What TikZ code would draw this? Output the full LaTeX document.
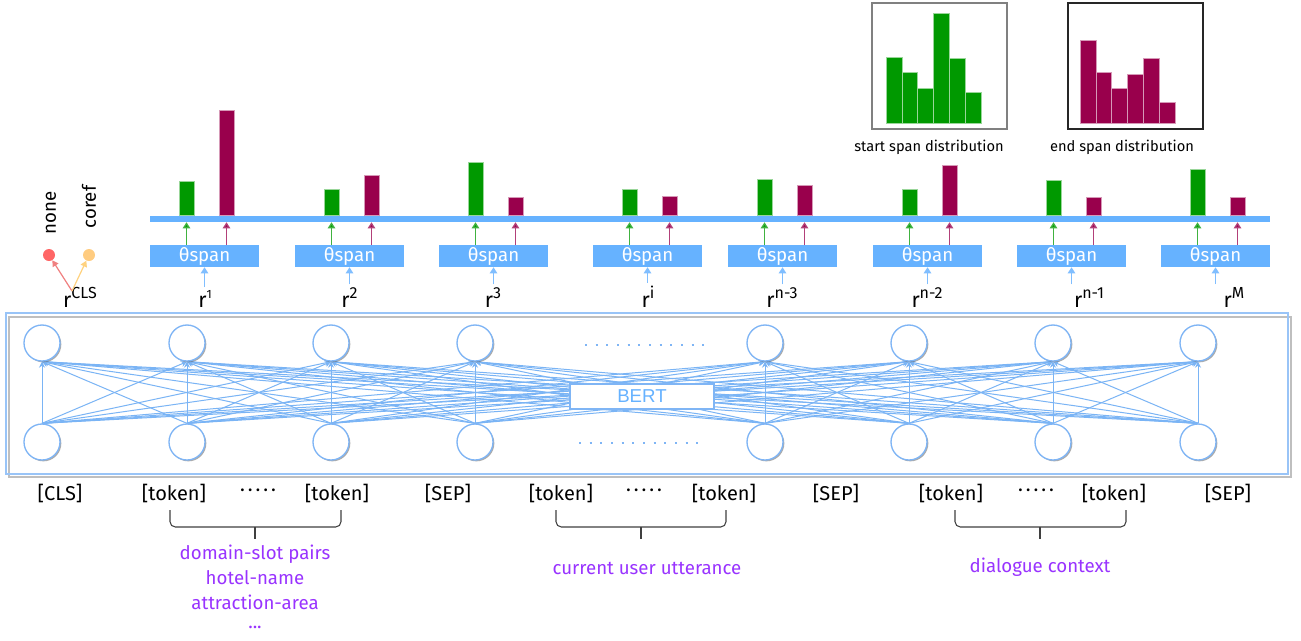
\documentclass[tikz,border=0pt]{standalone}
\usepackage{fontspec}
\setmainfont{Fira Sans}
\newfontfamily\bertfont{Liberation Sans}
\usetikzlibrary{arrows.meta,shadows,backgrounds}
\definecolor{spanblue}{HTML}{66B2FF}
\definecolor{arrblue}{HTML}{80BEFF}
\definecolor{gcol}{HTML}{009900}
\definecolor{mcol}{HTML}{99004C}
\definecolor{netblue}{HTML}{7AB4F5}
\definecolor{circblue}{HTML}{7FB5F5}
\definecolor{purp}{HTML}{9933FF}
\definecolor{reddot}{HTML}{FF6666}
\definecolor{orangedot}{HTML}{FFCC80}
\definecolor{redline}{HTML}{F08080}
\definecolor{orangeline}{HTML}{FFD27F}
\newcommand\rsup[2][12]{r\raisebox{0.42em}{\fontsize{#1}{#1}\selectfont #2}}
\newcommand\fivedots{·\hspace{2.2pt}·\hspace{2.2pt}·\hspace{2.2pt}·\hspace{2.2pt}·}
\tikzset{
  spanbox/.style={fill=spanblue, minimum width=81.75pt, minimum height=16.5pt, inner sep=0pt, text=white, font=\fontsize{14}{14}\selectfont},
  garrow/.style={draw=gcol!75, line width=1pt, -{Triangle[length=4.5pt,width=5.5pt,fill=gcol]}},
  marrow/.style={draw=mcol!75, line width=1pt, -{Triangle[length=4.5pt,width=5.5pt,fill=mcol]}},
  barrow/.style={draw=arrblue, line width=1.2pt, -{Triangle[length=4.5pt,width=5.5pt]}, shorten <=1pt},
  gbar/.style={fill=gcol, draw=gcol!40, line width=0.4pt},
  mbar/.style={fill=mcol, draw=mcol!40, line width=0.4pt},
  rlab/.style={anchor=base, inner sep=1pt, font=\fontsize{16}{16}\selectfont},
  neuron/.style={circle, draw=circblue, fill=white, line width=1pt, minimum size=27pt, inner sep=0pt,
    drop shadow={shadow xshift=1pt, shadow yshift=-1pt, fill=black!60, opacity=0.55}},
  netline/.style={draw=netblue, line width=0.75pt, -{Stealth[length=4.5pt,width=4.5pt]}},
  dotline/.style={draw=circblue, line width=1.6pt, dash pattern=on 1.6pt off 6.4pt},
  tok/.style={inner sep=1pt, font=\fontsize{15}{15}\selectfont},
  brc/.style={draw=black!75, line width=0.8pt, rounded corners=4pt},
  plab/.style={text=purp, inner sep=0pt, font=\fontsize{14}{14}\selectfont},
  histlab/.style={inner sep=1pt, font=\fontsize{11}{11}\selectfont},
}
\begin{document}
\begin{tikzpicture}[x=0.75pt,y=-0.75pt]
\useasboundingbox (0,0) rectangle (1301,640);

% ---------- top histograms ----------
\draw[draw=gray, line width=1.2pt] (872,3) rectangle (1007,129);
\foreach \i/\t in {0/57,1/72,2/88,3/13,4/58,5/92}
  \draw[gbar] (886+\i*15.8,123) rectangle (886+\i*15.8+15.8,\t);
\node[histlab] (lstart) at (929,147) {start span distribution};
\draw[draw=black!85, line width=1.2pt] (1068,3) rectangle (1203,129);
\foreach \i/\t in {0/40,1/72,2/88,3/74,4/58,5/102}
  \draw[mbar] (1080+\i*15.8,123) rectangle (1080+\i*15.8+15.8,\t);
\node[histlab] (lend) at (1122,147) {end span distribution};

% ---------- span bar ----------
\node[fill=spanblue, minimum width=840pt, minimum height=4.5pt, inner sep=0pt] (bar) at (710,219) {};

\foreach \n/\cx/\gt/\mt in {1/204.5/181/110, 2/349.5/189/175, 3/493.5/162/197, 4/647.5/189/196,
    5/782.5/179/185, 6/927.5/189/165, 7/1071.5/180/197, 8/1215.5/169/197}{
  \node[spanbox] (s\n) at (\cx,256) {θspan};
  \draw[gbar] (\cx-25.5,215.5) rectangle (\cx-10.5,\gt);
  \draw[mbar] (\cx+14.5,215.5) rectangle (\cx+29.5,\mt);
  \coordinate (ga\n) at (\cx-18,245);
  \coordinate (ma\n) at (\cx+22,245);
  \draw[garrow] (ga\n) -- (ga\n |- bar.south);
  \draw[marrow] (ma\n) -- (ma\n |- bar.south);
}

% ---------- r labels ----------
\node[rlab] (rc) at (80,307) {\rsup{CLS}};
\node[rlab] (r1) at (205,307) {\rsup[9]{1}};
\node[rlab] (r2) at (349.5,307) {\rsup{2}};
\node[rlab] (r3) at (493,307) {\rsup{3}};
\node[rlab] (r4) at (648,307) {\rsup{i}};
\node[rlab] (r5) at (782,307) {\rsup{n-3}};
\node[rlab] (r6) at (927,307) {\rsup{n-2}};
\node[rlab] (r7) at (1089,307) {\rsup{n-1}};
\node[rlab] (r8) at (1234,307) {\rsup{M}};
\foreach \n in {1,...,8}
  \draw[barrow] (s\n.south |- r\n.north) -- (s\n.south);

% ---------- none / coref ----------
\node[rotate=90, inner sep=1pt, font=\fontsize{14}{14}\selectfont] (none) at (51,213) {none};
\node[rotate=90, inner sep=1pt, font=\fontsize{14}{14}\selectfont] (coref) at (89,207) {coref};
\node[circle, fill=reddot, minimum size=9pt, inner sep=0pt] (rd) at (49,255) {};
\node[circle, fill=orangedot, minimum size=9pt, inner sep=0pt] (od) at (89,255) {};
\coordinate (clso) at (72,291);
\draw[draw=redline, line width=0.9pt, -{Triangle[length=4.5pt,width=5pt]}] (clso) -- (rd);
\draw[draw=orangeline, line width=0.9pt, -{Triangle[length=4.5pt,width=5pt]}] (clso) -- (od);

% ---------- BERT network ----------
\foreach \n/\x in {1/42,2/187,3/331,4/475,5/765,6/909,7/1053,8/1198}{
  \node[neuron] (t\n) at (\x,343) {};
  \node[neuron] (b\n) at (\x,442) {};
}
\begin{pgfonlayer}{background}
  \fill[white] (0,0) rectangle (1301,640);
  \draw[draw=black!25, line width=1pt] (9,317) rectangle (1291,477);
  \draw[draw=circblue!80, line width=1.4pt] (6,313) rectangle (1288,474);
  \foreach \i in {1,...,8}
    \foreach \j in {1,...,8}
      \draw[netline] (b\j.north) -- (t\i.south);
\end{pgfonlayer}
\node[draw=circblue, fill=white, line width=0.8pt, minimum width=108pt, minimum height=18.75pt, inner sep=0pt,
  text=spanblue, font=\fontsize{14}{14}\selectfont\bertfont,
  drop shadow={shadow xshift=0.9pt, shadow yshift=-0.9pt, fill=black!50, opacity=0.5}] (bert) at (642,396.5) {BERT};
\coordinate (dt1) at (585,345); \coordinate (dt2) at (712,345);
\coordinate (db1) at (579,443); \coordinate (db2) at (706,443);
\draw[dotline] (dt1) -- (dt2);
\draw[dotline] (db1) -- (db2);

% ---------- tokens ----------
\node[tok] (k1) at (60,493) {[CLS]};
\node[tok] (k2) at (174,493) {[token]};
\node[tok] (d1) at (258,493) {\fivedots};
\node[tok] (k3) at (337,493) {[token]};
\node[tok] (k4) at (448,493) {[SEP]};
\node[tok] (k5) at (561,493) {[token]};
\node[tok] (d2) at (644,493) {\fivedots};
\node[tok] (k6) at (724,493) {[token]};
\node[tok] (k7) at (836,493) {[SEP]};
\node[tok] (k8) at (951,493) {[token]};
\node[tok] (d3) at (1036,493) {\fivedots};
\node[tok] (k9) at (1114,493) {[token]};
\node[tok] (k10) at (1228,493) {[SEP]};

% ---------- braces ----------
\draw[brc] (170,510) |- (255,527) -| (341,510);
\draw[draw=black!75, line width=0.8pt] (255,527) -- (255,539);
\draw[brc] (556,510) |- (641,527) -| (726,510);
\draw[draw=black!75, line width=0.8pt] (641,527) -- (641,539);
\draw[brc] (955,510) |- (1040,527) -| (1126,510);
\draw[draw=black!75, line width=0.8pt] (1040,527) -- (1040,539);

% ---------- purple labels ----------
\node[plab] (p1) at (255,554) {domain-slot pairs};
\node[plab] (p2) at (255,578) {hotel-name};
\node[plab] (p3) at (255,602) {attraction-area};
\node[plab] (p4) at (255,627) {...};
\node[plab] (p5) at (647,568) {current user utterance};
\node[plab] (p6) at (1040,567) {dialogue context};
\end{tikzpicture}
\end{document}
